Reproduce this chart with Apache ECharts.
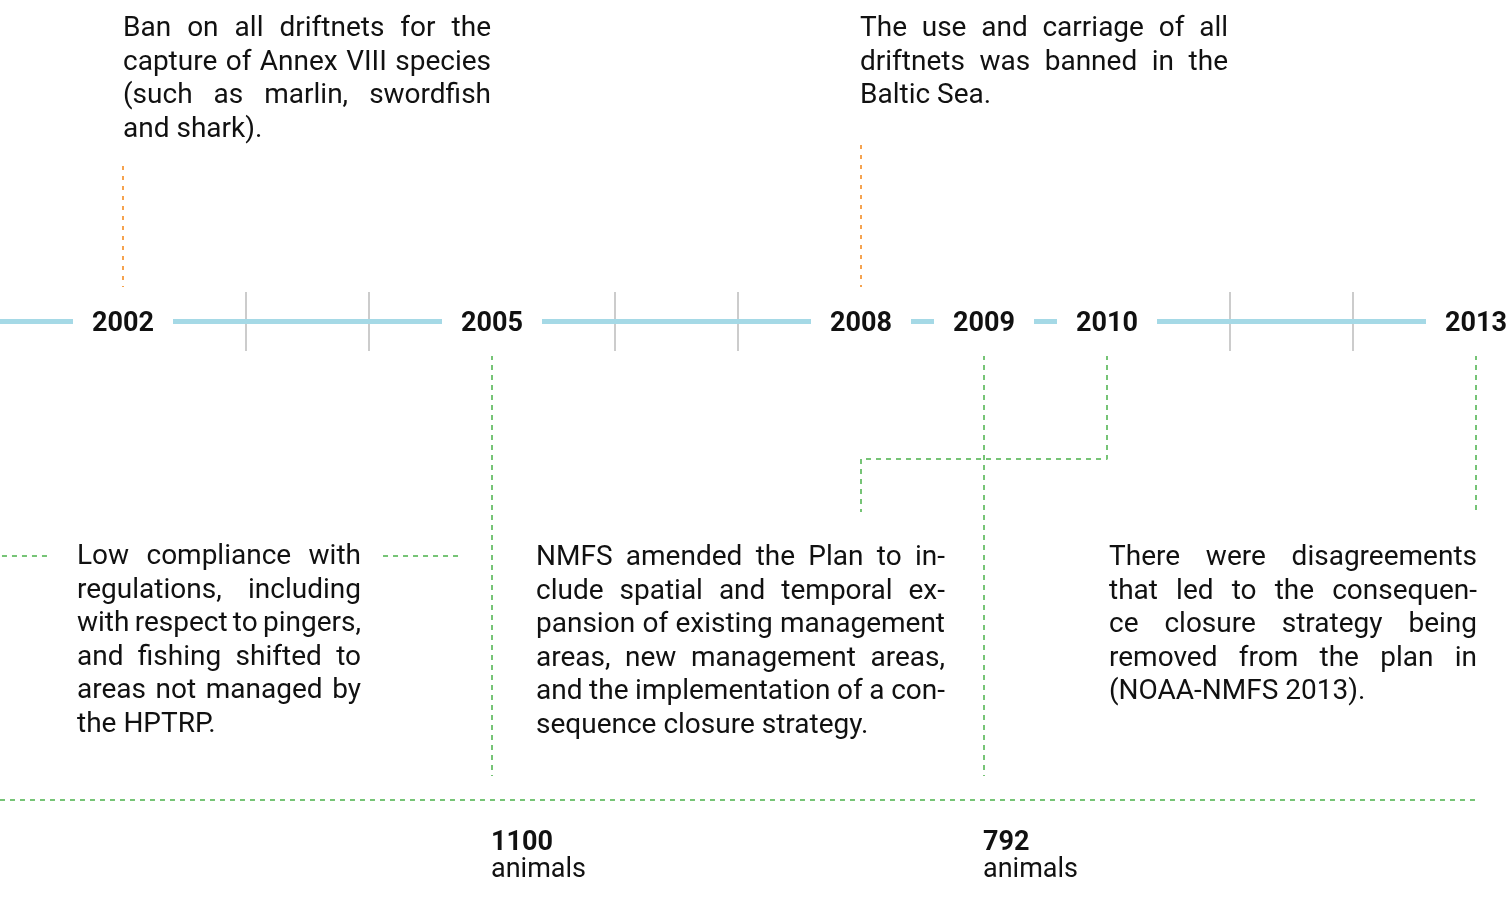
<!DOCTYPE html>
<html>
<head>
<meta charset="utf-8">
<script src="https://cdn.jsdelivr.net/npm/echarts@6/dist/echarts.min.js"></script>
<style>
html,body{margin:0;padding:0;background:#fff;}
#container{width:1510px;height:904px;}
</style>
</head>
<body>
<div id="container"></div>
<script>
// timeline data
var yearsLabeled = [2002, 2005, 2008, 2009, 2010, 2013];
var timelineStart = 2001;
var timelineEnd = 2013;
var animalYears = [2005, 2009];
var animalCounts = [1100, 792];

var textBan = ['Ban on all driftnets for the', 'capture of Annex VIII species', '(such as marlin, swordfish', 'and shark).'];
var textBaltic = ['The use and carriage of all', 'driftnets was banned in the', 'Baltic Sea.'];
var textCompliance = ['Low compliance with', 'regulations, including', 'with respect to pingers,', 'and fishing shifted to', 'areas not managed by', 'the HPTRP.'];
var textNmfs = ['NMFS amended the Plan to in-', 'clude spatial and temporal ex-', 'pansion of existing management', 'areas, new management areas,', 'and the implementation of a con-', 'sequence closure strategy.'];
var textRemoved = ['There were disagreements', 'that led to the consequen-', 'ce closure strategy being', 'removed from the plan in', '(NOAA-NMFS 2013).'];

// layout (pixels / year positions)
var W = 1510, H = 904, PX_PER_YEAR = 123;
var AXIS_Y = 321, LINE_H = 33.6;
var FONT = '28px Roboto';
var TEXT_COLOR = '#111111';
var orangeLinks = [
	[[2002, 166], [2002, 287]],
	[[2008, 145], [2008, 287]]
];
var greenLinks = [
	[[2005, 355], [2005, 776]],
	[[2009, 355], [2009, 776]],
	[[2010, 355], [2010, 459], [2008, 459], [2008, 512]],
	[[2013, 355], [2013, 512]],
	[[2001.016, 556], [2001.407, 556]],
	[[2004.114, 556], [2004.74, 556]],
	[[2001, 800], [2013, 800]]
];
var blocks = [
	{lines: textBan, left: 123, right: 491, y: 29},
	{lines: textBaltic, left: 860, right: 1228, y: 29},
	{lines: textCompliance, left: 77, right: 361, y: 557},
	{lines: textNmfs, left: 536, right: 945, y: 558},
	{lines: textRemoved, left: 1109, right: 1477, y: 558}
];

function joinSegments(list){
	var out = [];
	list.forEach(function (seg, i){
		if(i > 0) out.push(null);
		seg.forEach(function (p){ out.push(p); });
	});
	return out;
}

var measureCtx = document.createElement('canvas').getContext('2d');
//justified text, last line left aligned
function buildBlock(b){
	var els = [];
	measureCtx.font = FONT;
	b.lines.forEach(function (line, i){
		var y = b.y + i * LINE_H;
		var words = line.split(' ');
		if(i == b.lines.length - 1 || words.length < 2){
			els.push({type: 'text', x: b.left, y: y, silent: true,
				style: {text: line, font: FONT, fill: TEXT_COLOR, verticalAlign: 'middle'}});
			return;
		}
		var total = 0;
		var widths = words.map(function (w){ var m = measureCtx.measureText(w).width; total += m; return m; });
		var gap = (b.right - b.left - total) / (words.length - 1);
		var x = b.left;
		words.forEach(function (w, k){
			els.push({type: 'text', x: x, y: y, silent: true,
				style: {text: w, font: FONT, fill: TEXT_COLOR, verticalAlign: 'middle'}});
			x += widths[k] + gap;
		});
	});
	return els;
}

var xMax = timelineStart + W / PX_PER_YEAR;

var option = {
	animation: false,
	grid: [
		{left: 0, top: 0, width: W, height: H},
		{left: 0, top: 292, width: W, height: 59}
	],
	xAxis: [
		{gridIndex: 0, type: 'value', min: timelineStart, max: xMax, show: false},
		{gridIndex: 1, type: 'value', min: timelineStart, max: xMax, interval: 1,
			axisLine: {show: false}, axisTick: {show: false}, axisLabel: {show: false},
			splitLine: {show: true, showMinLine: false, showMaxLine: false, lineStyle: {color: '#cccccc', width: 2}}}
	],
	yAxis: [
		{gridIndex: 0, type: 'value', min: 0, max: H, inverse: true, show: false},
		{gridIndex: 1, type: 'value', min: -1, max: 1, show: false}
	],
	series: [
		{
			type: 'line', xAxisIndex: 1, yAxisIndex: 1, symbol: 'none', silent: true, z: 2,
			lineStyle: {color: '#a5d9e6', width: 5},
			data: [[timelineStart, 0], [timelineEnd, 0]]
		},
		{
			type: 'line', xAxisIndex: 0, yAxisIndex: 0, symbol: 'none', silent: true, z: 3,
			lineStyle: {color: '#f5a34f', width: 2, type: [4, 6]},
			data: joinSegments(orangeLinks)
		},
		{
			type: 'line', xAxisIndex: 0, yAxisIndex: 0, symbol: 'none', silent: true, z: 3,
			lineStyle: {color: '#76c476', width: 2, type: [5, 5]},
			data: joinSegments(greenLinks)
		},
		{
			//year labels, white box hides line and ticks behind
			type: 'scatter', xAxisIndex: 0, yAxisIndex: 0, symbol: 'rect', symbolSize: 1, z: 10, silent: true,
			itemStyle: {color: 'rgba(0,0,0,0)', opacity: 1},
			label: {
				show: true, position: 'inside', offset: [0, 3], formatter: function (p){ return p.value[0]; },
				backgroundColor: '#ffffff', width: 100, height: 64, lineHeight: 64,
				align: 'center', verticalAlign: 'middle',
				fontFamily: 'Roboto', fontWeight: 'bold', fontSize: 27, color: TEXT_COLOR
			},
			data: yearsLabeled.map(function (y){ return [y, AXIS_Y]; })
		},
		{
			type: 'scatter', xAxisIndex: 0, yAxisIndex: 0, symbol: 'rect', symbolSize: 1, z: 10, silent: true,
			itemStyle: {color: 'rgba(0,0,0,0)', opacity: 1},
			label: {
				show: true, position: 'inside', align: 'left', verticalAlign: 'middle', offset: [-1, 0],
				formatter: function (p){ return '{b|' + p.value[2] + '}\n{a|animals}'; },
				rich: {
					b: {fontFamily: 'Roboto', fontWeight: 'bold', fontSize: 27, lineHeight: 27, color: TEXT_COLOR},
					a: {fontFamily: 'Roboto', fontSize: 27, lineHeight: 27, color: TEXT_COLOR}
				}
			},
			data: animalYears.map(function (y, i){ return [y, 857, animalCounts[i]]; })
		}
	],
	graphic: []
};

var myChart = echarts.init(document.getElementById('container'));
var els = [];
blocks.forEach(function (b){ els = els.concat(buildBlock(b)); });
option.graphic = els;
myChart.setOption(option, true);
</script>
</body>
</html>
